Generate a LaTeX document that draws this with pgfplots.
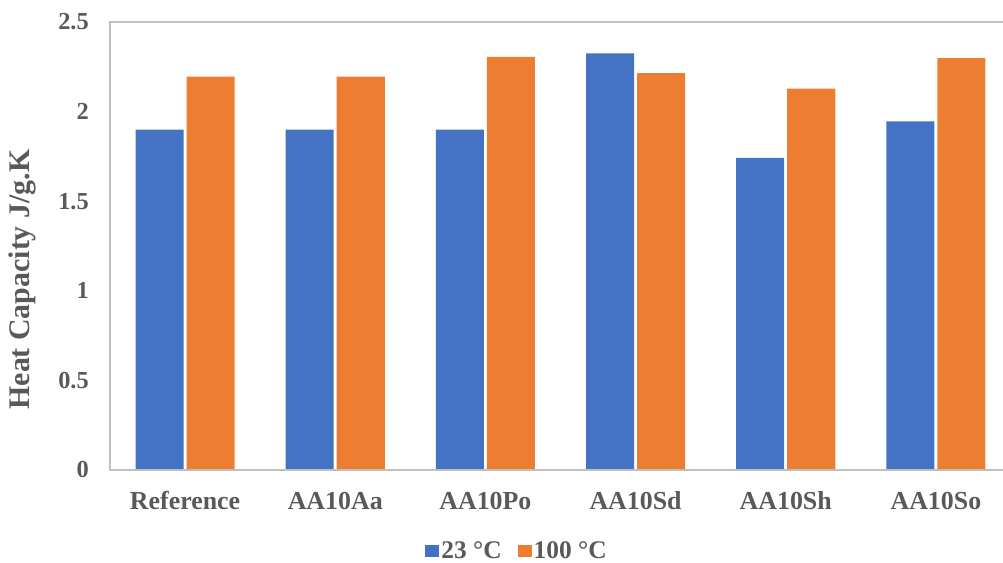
\documentclass[border=0pt]{standalone}
\usepackage{fontspec}
\setmainfont{Liberation Serif}
\usepackage{pgfplots}
\pgfplotsset{compat=1.18}
\definecolor{bblue}{HTML}{4472C4}
\definecolor{borange}{HTML}{ED7D31}
\definecolor{txt}{HTML}{595959}
\definecolor{framec}{HTML}{BFBFBF}
\begin{document}
\begin{tikzpicture}
\useasboundingbox (0,0) rectangle (1003bp,563bp);
\begin{axis}[
  at={(110bp,93bp)}, anchor=south west,
  scale only axis, width=893bp, height=448bp,
  xmin=-0.5, xmax=5.447, ymin=0, ymax=2.5,
  ybar, bar width=0.32,
  clip=false,
  axis line style={draw=none},
  major tick length=0,
  xtick={0,1,2,3,4,5},
  xticklabels={Reference,AA10Aa,AA10Po,AA10Sd,AA10Sh,AA10So},
  ytick={0,0.5,1,1.5,2,2.5},
  yticklabels={0,0.5,1,1.5,2,2.5},
  x tick label style={font=\bfseries\fontsize{26}{30}\selectfont, text=txt, inner sep=0pt, anchor=north, yshift=-22bp, text height=17bp},
  y tick label style={font=\bfseries\fontsize{24.5}{28}\selectfont, text=txt, inner sep=0pt, anchor=east, xshift=-21bp},
  ylabel={Heat Capacity J/g.K},
  ylabel style={font=\bfseries\fontsize{30}{34}\selectfont, text=txt, at={(rel axis cs:-0.0985,0.425)}, anchor=center, rotate=0},
  legend columns=2,
  legend style={draw=none, fill=none, font=\bfseries\fontsize{25.5}{30}\selectfont, text=txt,
    at={(rel axis cs:0.4558,-0.1808)}, anchor=center,
    nodes={inner sep=2bp},
    /tikz/every even column/.append style={column sep=14bp}},
  legend image code/.code={\fill[#1] (0bp,-6bp) rectangle (14bp,6bp);},
]
\addplot[fill=bblue, draw=none, bar shift=-0.17] coordinates {(0,1.90) (1,1.90) (2,1.90) (3,2.325) (4,1.742) (5,1.945)};
\addplot[fill=borange, draw=none, bar shift=0.17] coordinates {(0,2.195) (1,2.195) (2,2.305) (3,2.215) (4,2.128) (5,2.298)};
\legend{23 °C, 100 °C}
\draw[framec, line width=2.5bp] (rel axis cs:1.05,1) -- (rel axis cs:0,1) -- (rel axis cs:0,0) -- (rel axis cs:1.05,0);
\end{axis}
\end{tikzpicture}
\end{document}
